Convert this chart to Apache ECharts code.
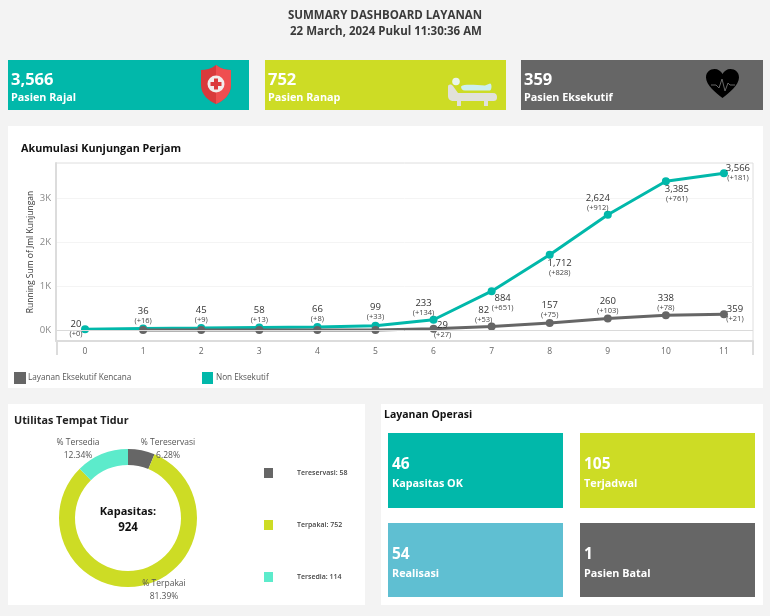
<!DOCTYPE html>
<html>
<head>
<meta charset="utf-8">
<title>Summary Dashboard Layanan</title>
<script src="https://cdn.jsdelivr.net/npm/echarts@6/dist/echarts.min.js"></script>
<style>
  html, body { margin: 0; padding: 0; background: #f3f3f3; }
  #dash { width: 770px; height: 616px; }
</style>
</head>
<body>
<div id="dash"></div>
<script>
// Hourly running totals
const hours = ['0','1','2','3','4','5','6','7','8','9','10','11'];
const nonEksekutif = [20, 36, 45, 58, 66, 99, 233, 884, 1712, 2624, 3385, 3566];
const nonEksekutifDelta = [0, 16, 9, 13, 8, 33, 134, 651, 828, 912, 761, 181];
const eksekutif = [null, 1, 1, 1, 2, 2, 29, 82, 157, 260, 338, 359];
const eksekutifDelta = [null, null, null, null, null, null, 27, 53, 75, 103, 78, 21];
const yTicks = [0, 1000, 2000, 3000];

// Bed occupancy
const bedNames = ['Tereservasi', 'Terpakai', 'Tersedia'];
const bedCounts = [58, 752, 114];
const bedPercentTitles = ['% Tereservasi', '% Terpakai', '% Tersedia'];
const kapasitas = 924;

// KPI tiles
const topValues = ['3,566', '752', '359'];
const topNames = ['Pasien Rajal', 'Pasien Ranap', 'Pasien Eksekutif'];
const opValues = ['46', '105', '54', '1'];
const opNames = ['Kapasitas OK', 'Terjadwal', 'Realisasi', 'Pasien Batal'];

// Palette
const TEAL = '#01B8AA', LIME = '#CDDC25', GREY = '#666666', SKY = '#5FBFD2', MINT = '#5CEBCB';
const FONT = '"Open Sans", "Noto Sans", sans-serif';

// Label block offsets from each point, keeping the two lines clear of each other
const nonOffsets = [[-9,0],[0,-13],[0,-13],[0,-13],[0,-13],[0,-14],[-10,-12],[11,12],[10,13],[-10,-12],[11,13],[14,0]];
const eksOffsets = [[0,0],[0,0],[0,0],[0,0],[0,0],[0,0],[9,1],[-8,-12],[0,-13],[0,-13],[0,-12],[11,0]];

const fmt = v => v.toLocaleString('en-US');
const labelRich = {
  v: { fontFamily: FONT, fontSize: 9.5, color: '#333', lineHeight: 10 },
  d: { fontFamily: FONT, fontSize: 7.5, color: '#444', lineHeight: 9 }
};
const points = (vals, deltas, offsets) => vals.map((v, i) => ({
  value: v,
  label: {
    show: deltas[i] !== null,
    position: 'inside',
    offset: offsets[i],
    formatter: deltas[i] === null ? '' : `{v|${fmt(v)}}\n{d|(+${deltas[i]})}`,
    rich: labelRich
  }
}));

// Icon outlines
const iconShapes = {
  shieldBody: 'M15 0C10 4 5 5 0 5V20C0 30 8 36 15 39C22 36 30 30 30 20V5C25 5 20 4 15 0Z',
  shieldSide: 'M0 0C5 4 10 5 15 5V20C15 30 7 36 0 39Z',
  bedFrame: 'M0 6C0 3 3 3 5 5L10 12H45C48 12 49 14 49 16C49 19 48 20 45 20H6C2 20 0 18 0 15Z',
  bedBody: 'M0 3C4 0 16 2 24 2L29 0C31 0 31 6 29 7H4C1 7 0 5 0 3Z',
  heart: 'M16.5 29C10 24 0 16 0 8.5C0 3 4 0 8.5 0C12 0 15 2 16.5 5C18 2 21 0 24.5 0C29 0 33 3 33 8.5C33 16 23 24 16.5 29Z'
};
Object.keys(iconShapes).forEach(k => {
  echarts.graphic.registerShape(k, echarts.graphic.extendPath(iconShapes[k], {}));
});

// Static page furniture: panels, tiles, headings, icons
const rect = (x, y, width, height, fill, z) => ({
  type: 'rect', z: z === undefined ? -5 : z, silent: true,
  shape: { x, y, width, height }, style: { fill }
});
const text = (x, y, str, size, fill, weight, align) => ({
  type: 'text', z: 5, silent: true, x, y: y + 1,
  style: { text: str, fontFamily: FONT, fontSize: size, fontWeight: weight || 'bold',
           fill, align: align || 'left', verticalAlign: 'middle' }
});
const icon = (type, x, y, fill) => ({ type, z: 3, silent: true, x, y, style: { fill } });
const line = (x1, y1, x2, y2, stroke, lineWidth) => ({
  type: 'line', z: -1, silent: true,
  shape: { x1, y1, x2, y2 }, style: { stroke, lineWidth: lineWidth || 1 }
});

const topTiles = [[8, 241, TEAL], [265, 241, LIME], [521, 242, GREY]];
const opTiles = [[388, 433, 175, 75, TEAL], [580, 433, 175, 75, LIME], [388, 523, 175, 74, SKY], [580, 523, 175, 74, GREY]];

const shieldIcon = [
  icon('shieldBody', 201, 65, '#D93A3C'),
  icon('shieldSide', 216, 65, '#EF4E50'),
  { type: 'circle', z: 4, silent: true, shape: { cx: 216, cy: 84, r: 8.5 }, style: { fill: '#F2EDED' } },
  rect(214, 78.5, 4, 11, '#DB3A3C', 5),
  rect(210.5, 82, 11, 4, '#DB3A3C', 5)
];
const bedIcon = [
  icon('bedFrame', 448, 81, '#E1E1DA'),
  rect(457, 100, 4, 6, '#E1E1DA', 3),
  rect(484, 100, 4, 6, '#E1E1DA', 3),
  { type: 'circle', z: 4, silent: true, shape: { cx: 456, cy: 81.5, r: 3.8 }, style: { fill: '#E9F5EC' } },
  { ...icon('bedBody', 461, 83.5, '#CDEFF0'), z: 4 }
];
const heartIcon = [
  icon('heart', 706, 69, '#000'),
  { type: 'polyline', z: 4, silent: true,
    shape: { points: [[711,85],[716,85],[719,88],[722,79],[725,91],[728,83],[730,85],[735,85]] },
    style: { stroke: '#666', lineWidth: 1, fill: null } }
];

const graphicElements = [
  rect(8, 126, 755, 262, '#fff'),
  rect(8, 404, 357, 201, '#fff'),
  rect(381, 404, 382, 201, '#fff'),
  line(57, 341, 57, 355, '#dcdcdc', 2),
  line(753, 341, 753, 355, '#dcdcdc', 2),
  text(385, 15, 'SUMMARY DASHBOARD LAYANAN', 11.5, '#3a3a3a', 'bold', 'center'),
  text(386, 31, '22 March, 2024 Pukul 11:30:36 AM', 11.5, '#3a3a3a', 'bold', 'center'),
  text(21, 148, 'Akumulasi Kunjungan Perjam', 10.8, '#111'),
  text(14, 420, 'Utilitas Tempat Tidur', 10.8, '#222'),
  text(384, 414, 'Layanan Operasi', 10.5, '#111'),
  text(128, 511, 'Kapasitas:', 11, '#111', 'bold', 'center'),
  text(128, 527, String(kapasitas), 11.5, '#111', 'bold', 'center'),
  ...topTiles.flatMap((t, i) => [
    rect(t[0], 60, t[1], 50, t[2], 1),
    text(t[0] + 3, 79, topValues[i], 16.5, '#fff'),
    text(t[0] + 3, 97, topNames[i], 10.8, '#fff')
  ]),
  ...opTiles.flatMap((t, i) => [
    rect(t[0], t[1], t[2], t[3], t[4], 1),
    text(t[0] + 4, t[1] + 31, opValues[i], 15.5, '#fff'),
    text(t[0] + 4, t[1] + 50, opNames[i], 10.8, '#fff')
  ]),
  ...shieldIcon, ...bedIcon, ...heartIcon
];

const chart = echarts.init(document.getElementById('dash'), null, { renderer: 'canvas' });
const percentSpots = [[168, 449], [164, 590], [78, 449]];

chart.setOption({
  animation: false,
  backgroundColor: '#f3f3f3',
  graphic: { elements: graphicElements },
  legend: [
    { left: 14, top: 372, padding: 0, selectedMode: false, icon: 'rect', itemWidth: 12, itemHeight: 12,
      data: ['Layanan Eksekutif Kencana'],
      textStyle: { fontFamily: FONT, fontSize: 8.2, color: '#555', padding: [0, 0, 0, -3] } },
    { left: 202, top: 372, padding: 0, selectedMode: false, icon: 'rect', itemWidth: 11, itemHeight: 12,
      data: ['Non Eksekutif'],
      textStyle: { fontFamily: FONT, fontSize: 8.2, color: '#555', padding: [0, 0, 0, -2] } },
    { left: 264, top: 468, padding: 0, orient: 'vertical', selectedMode: false, icon: 'rect',
      itemWidth: 9, itemHeight: 10, itemGap: 42, data: bedNames,
      formatter: n => `${n}: ${bedCounts[bedNames.indexOf(n)]}`,
      textStyle: { fontFamily: FONT, fontSize: 7, fontWeight: 600, color: '#444', padding: [0, 0, 0, 19] } }
  ],
  grid: {
    left: 56, right: 17, top: 163, bottom: 275,
    show: true, backgroundColor: 'transparent', borderColor: '#dedede', borderWidth: 1
  },
  xAxis: {
    type: 'category', data: hours,
    axisLine: { onZero: false, lineStyle: { color: '#dcdcdc', width: 2 } },
    axisTick: { show: false },
    axisLabel: { fontFamily: FONT, fontSize: 8.5, color: '#666', margin: 6 }
  },
  yAxis: {
    type: 'value', min: -250, max: 3800,
    name: 'Running Sum of Jml Kunjungan', nameLocation: 'middle', nameGap: 21, nameMoveOverlap: false,
    nameTextStyle: { fontFamily: FONT, fontSize: 8.5, color: '#333' },
    axisLine: { show: true, lineStyle: { color: '#dcdcdc', width: 2 } },
    axisTick: { show: false, customValues: yTicks },
    axisLabel: { customValues: yTicks, formatter: v => (v / 1000) + 'K',
                 fontFamily: FONT, fontSize: 9.5, color: '#888', margin: 5 },
    splitLine: { show: true, lineStyle: { color: '#f4f4f4', width: 1 } }
  },
  series: [
    {
      name: 'Non Eksekutif', type: 'line', z: 2,
      data: points(nonEksekutif, nonEksekutifDelta, nonOffsets),
      symbol: 'circle', symbolSize: 8,
      itemStyle: { color: TEAL }, lineStyle: { color: TEAL, width: 3 },
      markLine: {
        silent: true, symbol: 'none', label: { show: false },
        lineStyle: { color: '#dadada', width: 1, type: 'solid' },
        data: [{ yAxis: 0 }]
      }
    },
    {
      name: 'Layanan Eksekutif Kencana', type: 'line', z: 3,
      data: points(eksekutif, eksekutifDelta, eksOffsets),
      symbol: 'circle', symbolSize: 8,
      itemStyle: { color: GREY }, lineStyle: { color: GREY, width: 3 }
    },
    {
      name: 'Utilitas', type: 'pie', center: [128, 518], radius: [53, 69],
      startAngle: 90, clockwise: true, z: 2,
      data: bedNames.map((n, i) => ({
        name: n, value: bedCounts[i],
        itemStyle: { color: [GREY, LIME, MINT][i] }
      })),
      label: {
        show: true, fontFamily: FONT, fontSize: 8.5, color: '#555', lineHeight: 12.5,
        formatter: p => `${bedPercentTitles[p.dataIndex]}\n${(p.value / kapasitas * 100).toFixed(2)}%`
      },
      labelLine: { show: false },
      labelLayout: p => ({
        x: percentSpots[p.dataIndex][0], y: percentSpots[p.dataIndex][1],
        align: 'center', verticalAlign: 'middle'
      }),
      emphasis: { disabled: true }
    }
  ]
});
</script>
</body>
</html>
